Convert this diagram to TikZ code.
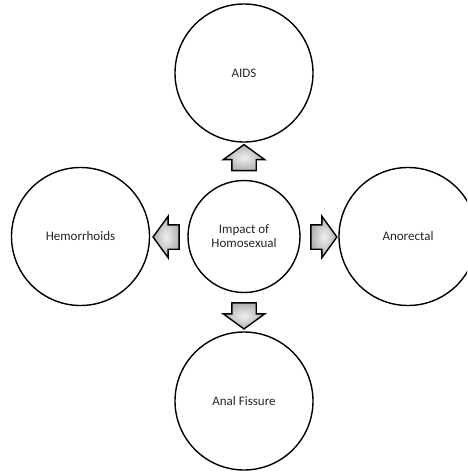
\documentclass[tikz,border=0pt]{standalone}
\usepackage{fontspec}
\setmainfont{Carlito}
\usepackage{tikz}
\usetikzlibrary{positioning}
\usetikzlibrary{shapes.arrows}

\tikzset{
	bubble/.style={circle, draw=black, line width=1.4pt, fill=white, minimum size=138pt, inner sep=0pt,
		text=black!85, font=\fontsize{13}{14}\selectfont, align=center},
	hub/.style={bubble, minimum size=112pt},
	blockarrow/.style={single arrow, draw=black, line width=1.4pt, inner color=gray!12, outer color=gray!62,
		single arrow tip angle=108, single arrow head extend=8.5pt, single arrow head indent=0pt,
		minimum height=26pt, inner xsep=0pt, inner ysep=11.5pt, font=\tiny}
}

\begin{document}
\begin{tikzpicture}[x=1pt, y=-1pt]
	
	% ------------------------------------------------
	% Ensure the dimensions of graphic are appropriate
	\useasboundingbox (0,0) rectangle (467,474);
	\clip (0,0) rectangle (467,474);
	
	% ------------------------------------------------
	% Relevant coordinates
	\coordinate (Centre) at (244,236.5);
	
	\path (Centre) +(0,-163.5)	coordinate (Top);
	\path (Centre) +(0,164.5)	coordinate (Bottom);
	\path (Centre) +(-163.5,0)	coordinate (Left);
	\path (Centre) +(164,0)		coordinate (Right);
	
	\path (Centre) +(0,-74.5)	coordinate (UpPos);
	\path (Centre) +(0,75)		coordinate (DownPos);
	\path (Centre) +(-73.5,0.5)	coordinate (LeftPos);
	\path (Centre) +(75.5,0.5)	coordinate (RightPos);
	
	% ----------------
	% Circles
	\node[hub]    (Impact)      at (Centre) {Impact of\\Homosexual};
	\node[bubble] (AIDS)        at (Top)    {AIDS};
	\node[bubble] (Fissure)     at (Bottom) {Anal Fissure};
	\node[bubble] (Hemorrhoids) at (Left)   {Hemorrhoids};
	\node[bubble] (Anorectal)   at (Right)  {Anorectal};
	
	% ----------------
	% Block arrows
	\node[blockarrow, rotate=90]  (UpArrow)    at (UpPos)    {};
	\node[blockarrow, rotate=270] (DownArrow)  at (DownPos)  {};
	\node[blockarrow, rotate=180] (LeftArrow)  at (LeftPos)  {};
	\node[blockarrow]             (RightArrow) at (RightPos) {};
	
\end{tikzpicture}
\end{document}
